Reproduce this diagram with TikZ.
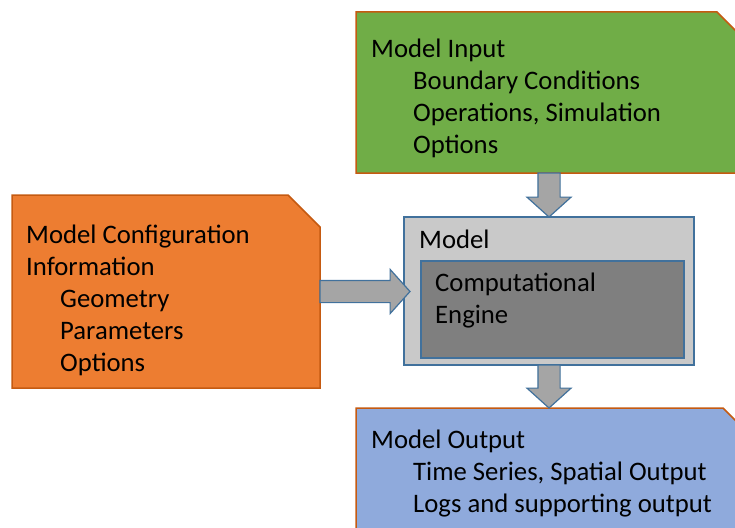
\documentclass[tikz,border=0pt]{standalone}
\usepackage{fontspec}
\setmainfont{Carlito}
\usetikzlibrary{shapes.arrows,positioning}
\definecolor{inputgreen}{HTML}{70AD47}
\definecolor{configorange}{HTML}{ED7D31}
\definecolor{outputblue}{HTML}{8FAADC}
\definecolor{edgebrown}{HTML}{C55A11}
\definecolor{edgeblue}{HTML}{41719C}
\definecolor{modelgray}{HTML}{C9C9C9}
\definecolor{enginegray}{HTML}{7F7F7F}
\definecolor{arrowgray}{HTML}{A5A5A5}
\tikzset{
  note/.style={rectangle, inner sep=0pt, outer sep=0pt, anchor=north west},
  panel/.style={rectangle, draw=edgeblue, line width=1.5pt, inner sep=0pt, outer sep=0pt, anchor=north west},
  blockarrow/.style={single arrow, single arrow head extend=11pt, single arrow tip angle=96, draw=edgeblue, fill=arrowgray, line width=1.2pt, inner sep=10.5pt, minimum width=0pt, outer sep=0pt, anchor=tail},
  lines/.style={anchor=base west, align=left, inner sep=0pt, font=\fontsize{26.7}{32}\selectfont}
}
\newcommand{\ind}[1]{\hspace*{#1pt}}
\begin{document}
\begin{tikzpicture}[x=1pt,y=-1pt]
\useasboundingbox (0,0) rectangle (735,527);
\clip (0,0) rectangle (735,527);

\node[note, minimum width=393pt, minimum height=161pt] (input) at (356,12) {};
\node[note, minimum width=308pt, minimum height=193pt] (config) at (12,195) {};
\node[note, minimum width=393pt, minimum height=150pt] (output) at (356,408) {};
\foreach \n/\c/\s in {input/inputgreen/32, config/configorange/32, output/outputblue/26}{
	\filldraw[fill=\c, draw=edgebrown, line width=1.5pt] (\n.north west) -- ([xshift=-\s pt]\n.north east) -- ([yshift=-\s pt]\n.north east) -- (\n.south east) -- (\n.south west) -- cycle;
}
\node[panel, fill=modelgray, minimum width=290pt, minimum height=148pt] (model) at (404,217) {};
\node[panel, fill=enginegray, minimum width=263pt, minimum height=97pt] (engine) at (421,261) {};

\node[lines] (inputtext) at ([shift={(15,141)}]input.north west) {Model Input\\ \ind{42}Boundary Conditions\\ \ind{42}Operations, Simulation\\ \ind{42}Options};
\node[lines] (configtext) at ([shift={(14,176)}]config.north west) {Model Configuration\\ Information\\ \ind{34}Geometry\\ \ind{34}Parameters\\ \ind{34}Options};
\node[lines] (outputtext) at ([shift={(15,104)}]output.north west) {Model Output\\ \ind{42}Time Series, Spatial Output\\ \ind{42}Logs and supporting output};
\node[lines] (modeltext) at ([shift={(15,31)}]model.north west) {Model};
\node[lines] (enginetext) at ([shift={(14,62)}]engine.north west) {Computational\\ Engine};

\node[blockarrow, rotate=-90, minimum height=44pt] (intomodel) at (input.south -| model.north) {};
\node[blockarrow, minimum height=90pt] (configtomodel) at (config.east) {};
\node[blockarrow, rotate=-90, minimum height=43pt] (tooutput) at (model.south) {};
\end{tikzpicture}
\end{document}
